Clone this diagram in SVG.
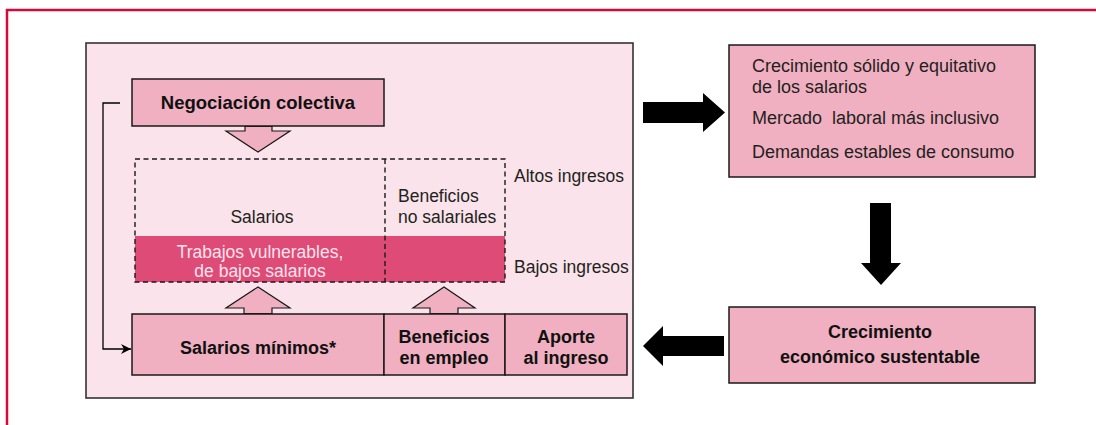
<svg xmlns="http://www.w3.org/2000/svg" width="1096" height="425" viewBox="0 0 1096 425">
<style>
.t{font-family:"Liberation Sans",Arial,sans-serif;font-size:17.5px;fill:#231f20}
.tr{font-family:"Liberation Sans",Arial,sans-serif;font-size:18px;fill:#231f20}
.b{font-family:"Liberation Sans",Arial,sans-serif;font-size:18px;font-weight:bold;fill:#111}
.box{fill:#f0b0c1;stroke:#1a1a1a;stroke-width:1.5}
.hol{fill:#f0b0c1;stroke:#1a1a1a;stroke-width:1.2;stroke-linejoin:miter}
.dash{fill:none;stroke:#1a1a1a;stroke-width:1.4;stroke-dasharray:5,3.5}
.blk{fill:#000}
</style>
<defs>
<marker id="ah" viewBox="0 0 10 10" refX="10" refY="5" markerWidth="10" markerHeight="10" markerUnits="userSpaceOnUse" orient="auto">
<path d="M0,0 L10,5 L0,10 L3,5 z" fill="#000"/>
</marker>
</defs>
<rect x="7" y="10" width="1100" height="430" fill="none" stroke="#d6083b" stroke-width="2.5"/>
<g id="panel">
<rect x="86" y="43" width="547" height="355" fill="#fae3ea" stroke="#333" stroke-width="1.6"/>
</g>
<g id="income-grid">
<rect x="135" y="236" width="370" height="46" fill="#de4b77"/>
<rect class="dash" x="135" y="159" width="370" height="123"/>
<line class="dash" x1="385" y1="159" x2="385" y2="282"/>
<text class="t" x="262" y="223" text-anchor="middle">Salarios</text>
<text class="t" x="398" y="202">Beneficios</text>
<text class="t" x="398" y="223">no salariales</text>
<text class="t" x="260" y="258" text-anchor="middle" style="fill:#fde4ec">Trabajos vulnerables,</text>
<text class="t" x="260" y="277" text-anchor="middle" style="fill:#fde4ec">de bajos salarios</text>
<text class="t" x="514" y="182">Altos ingresos</text>
<text class="t" x="514" y="273">Bajos ingresos</text>
</g>
<g id="negociacion">
<rect class="box" x="132" y="79" width="252" height="47"/>
<text class="b" x="258" y="109" text-anchor="middle" style="font-size:18.5px">Negociación colectiva</text>
</g>
<g id="bottom-boxes">
<rect class="box" x="132" y="314" width="252" height="61"/>
<rect class="box" x="384" y="314" width="121" height="61"/>
<rect class="box" x="505" y="314" width="122" height="61"/>
<text class="b" x="258" y="354" text-anchor="middle">Salarios mínimos*</text>
<text class="b" x="444" y="343" text-anchor="middle">Beneficios</text>
<text class="b" x="444" y="364" text-anchor="middle">en empleo</text>
<text class="b" x="566" y="343" text-anchor="middle">Aporte</text>
<text class="b" x="566" y="364" text-anchor="middle">al ingreso</text>
</g>
<g id="resultados">
<rect class="box" x="729" y="45" width="306" height="132"/>
<text class="tr" x="752" y="72">Crecimiento sólido y equitativo</text>
<text class="tr" x="752" y="93">de los salarios</text>
<text class="tr" x="752" y="124" xml:space="preserve">Mercado  laboral más inclusivo</text>
<text class="tr" x="752" y="158">Demandas estables de consumo</text>
</g>
<g id="crecimiento">
<rect class="box" x="729" y="307" width="306" height="76"/>
<text class="b" x="880" y="338" text-anchor="middle">Crecimiento</text>
<text class="b" x="880" y="363" text-anchor="middle">económico sustentable</text>
</g>
<g id="connectors">
<polygon class="hol" points="245,126.5 245,131 226,131 258,152 290,131 272,131 272,126.5"/>
<polygon class="hol" points="244,313.5 244,308 226,308 258,287 290,308 272,308 272,313.5"/>
<polygon class="hol" points="430,313.5 430,308 413,308 444,287 475,308 458,308 458,313.5"/>
<polyline points="120,103 103,103 103,349 131,349" fill="none" stroke="#000" stroke-width="1.3" marker-end="url(#ah)"/>
<polygon class="blk" points="643,102 703,102 703,93 725,112.5 703,132 703,123 643,123"/>
<polygon class="blk" points="870,203 891,203 891,263 901,263 881,285 861,263 870,263"/>
<polygon class="blk" points="724,336 663,336 663,326 643,346 663,366 663,356 724,356"/>
</g>
</svg>
